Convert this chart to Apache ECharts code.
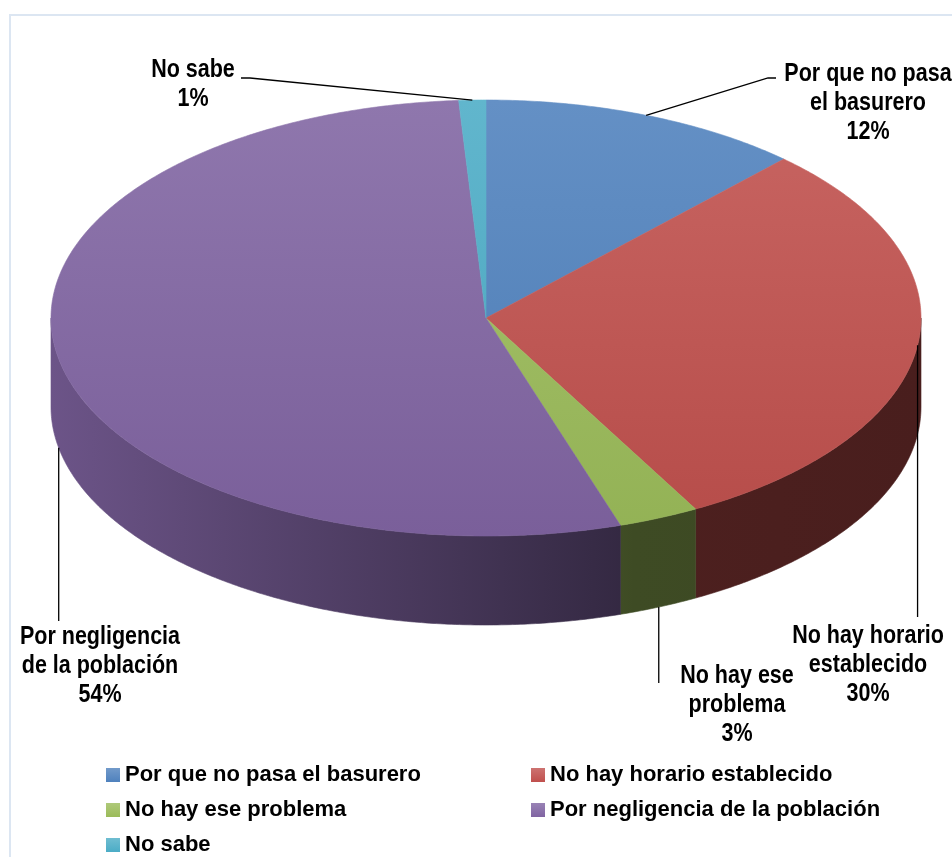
<!DOCTYPE html>
<html>
<head>
<meta charset="utf-8">
<script src="https://cdn.jsdelivr.net/npm/echarts@6/dist/echarts.min.js"></script>
<style>
  html, body { margin: 0; padding: 0; background: #ffffff; }
  #chart { width: 952px; height: 857px; }
</style>
</head>
<body>
<div id="chart"></div>
<script>
// Survey answers and their shares (%)
const categories = [
  'Por que no pasa el basurero',
  'No hay horario establecido',
  'No hay ese problema',
  'Por negligencia de la población',
  'No sabe'
];
const shares = [12, 30, 3, 54, 1];

// Slice colours (Office palette)
const baseColors = ['#4F81BD', '#C0504D', '#9BBB59', '#8064A2', '#4BACC6'];

// Tilted disc geometry (pixels)
const CX = 486, CY = 318, RX = 435, RY = 218, DEPTH = 89;
const FONT_FAMILY = '"Liberation Sans", Arial, sans-serif';
const LABEL_FONT = 'bold 25px ' + FONT_FAMILY;
const LABEL_LINE = 29;
const LABEL_SQUEEZE = 0.86;   // condensed look for slice labels

// Where each slice label sits (centre of text block, first line) and how its leader runs
const labelLayout = [
  { x: 868, y: 74,  anchor: 'top',    leader: 'elbow', points: [[768, 78], [776, 78]] },
  { x: 868, y: 636, anchor: 'top',    leader: 'drop',  endY: 617 },
  { x: 737, y: 676, anchor: 'bottom', leader: 'drop',  endY: 683 },
  { x: 100, y: 637, anchor: 'bottom', leader: 'drop',  endY: 621 },
  { x: 193, y: 70,  anchor: 'top',    leader: 'elbow', points: [[250, 78], [241, 78]] }
];

function hexToRgb(h) {
  const n = parseInt(h.slice(1), 16);
  return [(n >> 16) & 255, (n >> 8) & 255, n & 255];
}
function shade(h, f) {
  const c = hexToRgb(h).map(v => Math.round(v * f));
  return 'rgb(' + c.join(',') + ')';
}
function tint(h, f) {
  const c = hexToRgb(h).map(v => Math.round(v + (255 - v) * f));
  return 'rgb(' + c.join(',') + ')';
}

function wrapWords(text, maxChars) {
  const words = text.split(' ');
  const lines = [];
  let cur = '';
  words.forEach(w => {
    const next = cur ? cur + ' ' + w : w;
    if (next.length > maxChars && cur) { lines.push(cur); cur = w; }
    else cur = next;
  });
  if (cur) lines.push(cur);
  return lines;
}

function topPt(a) { return [CX + RX * Math.sin(a), CY - RY * Math.cos(a)]; }
function botPt(a) { const p = topPt(a); return [p[0], p[1] + DEPTH]; }

function arcPoints(a0, a1, fn) {
  const pts = [];
  const steps = Math.max(2, Math.ceil(Math.abs(a1 - a0) / (Math.PI / 360)));
  for (let s = 0; s <= steps; s++) pts.push(fn(a0 + (a1 - a0) * s / steps));
  return pts;
}

function makeRenderer(i) {
  return function (params, api) {
    const total = shares.reduce((a, b) => a + b, 0);
    let before = 0;
    for (let k = 0; k < i; k++) before += shares[k];
    const value = api.value(0);
    const a0 = before / total * 2 * Math.PI;
    const a1 = (before + value) / total * 2 * Math.PI;
    const base = baseColors[i];

    const topFill = new echarts.graphic.LinearGradient(0, CY - RY, 0, CY + RY, [
      { offset: 0, color: tint(base, 0.12) },
      { offset: 1, color: shade(base, 0.95) }
    ], true);
    const wallFill = new echarts.graphic.LinearGradient(CX - RX, 0, CX + RX, 0, [
      { offset: 0, color: shade(base, 0.84) },
      { offset: 0.67, color: shade(base, 0.40) },
      { offset: 1, color: shade(base, 0.38) }
    ], true);

    const children = [];

    // Outer wall, only the part facing the viewer
    const lo = Math.max(a0, Math.PI / 2), hi = Math.min(a1, 3 * Math.PI / 2);
    if (lo < hi) {
      const pts = arcPoints(lo, hi, topPt).concat(arcPoints(hi, lo, botPt));
      children.push({
        type: 'polygon', shape: { points: pts },
        style: { fill: wallFill, stroke: wallFill, lineWidth: 0.6 }
      });
    }

    // Top face
    const topPts = [[CX, CY]].concat(arcPoints(a0, a1, topPt));
    children.push({
      type: 'polygon', shape: { points: topPts },
      style: { fill: topFill, stroke: topFill, lineWidth: 0.6 }
    });

    // Leader line and label
    const lay = labelLayout[i];
    const mid = (a0 + a1) / 2;
    const anchor = lay.anchor === 'top' ? topPt(mid) : botPt(mid);
    let linePts;
    if (lay.leader === 'drop') linePts = [anchor, [anchor[0], lay.endY]];
    else linePts = [anchor].concat(lay.points);
    children.push({
      type: 'polyline', shape: { points: linePts },
      style: { stroke: '#000', lineWidth: 1.3, fill: null }
    });

    const lines = wrapWords(categories[i], 15).concat([Math.round(value / total * 100) + '%']);
    children.push({
      type: 'text',
      x: lay.x, y: lay.y - LABEL_LINE / 2,
      scaleX: LABEL_SQUEEZE,
      style: {
        text: lines.join('\n'),
        x: 0, y: 0,
        align: 'center', verticalAlign: 'top',
        font: LABEL_FONT, lineHeight: LABEL_LINE, fill: '#000'
      }
    });

    return { type: 'group', children: children };
  };
}

const legendText = {
  color: '#000', fontSize: 22, fontWeight: 'bold',
  fontFamily: FONT_FAMILY, lineHeight: 24
};
function legendItem(i) {
  return {
    name: categories[i],
    itemStyle: {
      color: new echarts.graphic.LinearGradient(0, 0, 0, 1, [
        { offset: 0, color: tint(baseColors[i], 0.2) },
        { offset: 1, color: baseColors[i] }
      ])
    }
  };
}
const legendCommon = {
  orient: 'vertical', top: 758, height: 200, itemWidth: 14, itemHeight: 14, itemGap: 11,
  icon: 'rect', textStyle: legendText, selectedMode: false
};

const chart = echarts.init(document.getElementById('chart'), null, { renderer: 'canvas' });
chart.setOption({
  animation: false,
  backgroundColor: '#ffffff',
  graphic: [{
    type: 'rect', z: -10,
    shape: { x: 10, y: 15, width: 1000, height: 900 },
    style: { fill: 'none', stroke: '#DCE6F2', lineWidth: 2 }
  }],
  legend: [
    Object.assign({ left: 101, data: [0, 2, 4].map(legendItem) }, legendCommon),
    Object.assign({ left: 526, data: [1, 3].map(legendItem) }, legendCommon)
  ],
  series: categories.map((name, i) => ({
    type: 'custom',
    name: name,
    coordinateSystem: 'none',
    z: 2 + i,
    itemStyle: { color: baseColors[i] },
    renderItem: makeRenderer(i),
    data: [[shares[i]]]
  }))
});
</script>
</body>
</html>
